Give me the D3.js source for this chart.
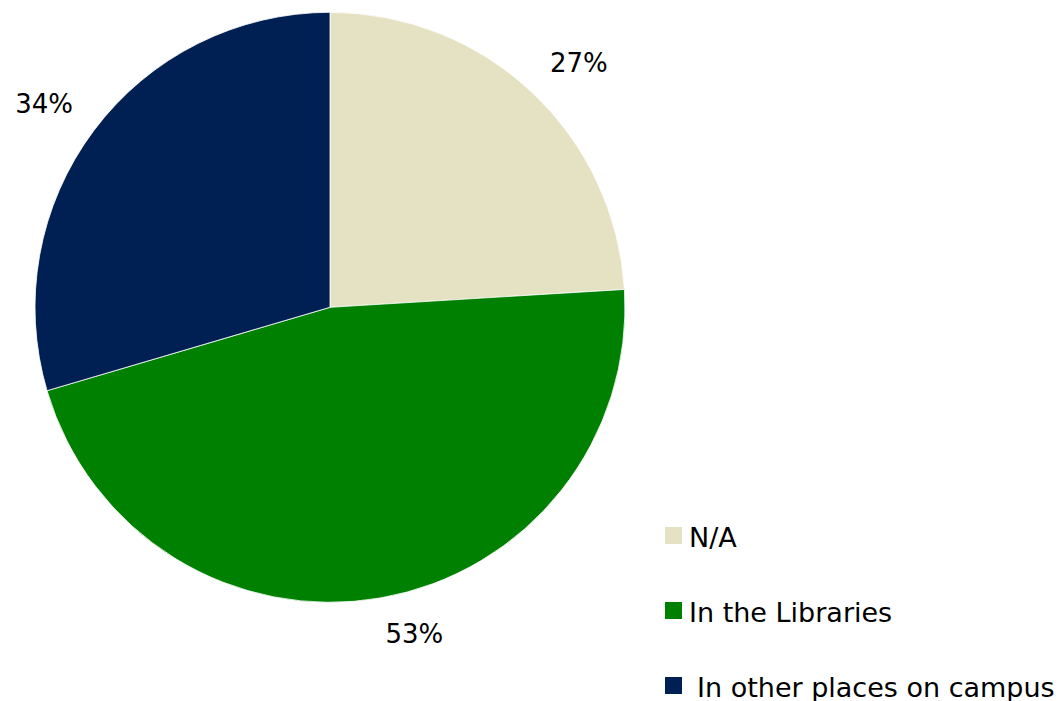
<!DOCTYPE html>
<html>
<head>
<meta charset="utf-8">
<script src="https://cdn.jsdelivr.net/npm/d3@7"></script>
<style>
  body { margin: 0; background: #fff; }
  svg { display: block; }
  text { font-family: "DejaVu Sans", sans-serif; fill: #000; }
</style>
</head>
<body>
<script>
// Chart data (labels as printed)
const categories = ["N/A", "In the Libraries", "In other places on campus"];
const values = [27.4, 52.9, 33.7];
const labels = ["27%", "53%", "34%"];
const colors = ["#e5e2c3", "#008000", "#001f52"];

const WIDTH = 1060, HEIGHT = 701;
const CX = 330, CY = 307.3, RADIUS = 295;
const LABEL_GAP = 321; // distance of the label box's nearest corner
const LABEL_FONT = 26;
const LEGEND_FONT = 27;

const svg = d3.select("body").append("svg")
  .attr("width", WIDTH)
  .attr("height", HEIGHT);

const data = categories.map((c, i) => ({ name: c, value: values[i], label: labels[i], color: colors[i] }));

const pie = d3.pie().sort(null).value((d) => d.value);
const arc = d3.arc().innerRadius(0).outerRadius(RADIUS);
const labelArc = d3.arc().innerRadius(LABEL_GAP).outerRadius(LABEL_GAP);

const g = svg.append("g").attr("transform", `translate(${CX},${CY})`);
const arcs = pie(data);

g.selectAll("path")
  .data(arcs)
  .join("path")
  .attr("d", arc)
  .attr("fill", (d) => d.data.color)
  .attr("stroke", "#fff")
  .attr("stroke-width", 0.8);

// Labels: the box corner nearest the pie sits on the mid-angle ray
const text = g.selectAll("text")
  .data(arcs)
  .join("text")
  .attr("font-size", `${LABEL_FONT}px`)
  .attr("dominant-baseline", "central")
  .attr("text-anchor", "middle")
  .text((d) => d.data.label);

text.each(function (d) {
  const box = this.getBBox();
  const mid = (d.startAngle + d.endAngle) / 2;
  const [px, py] = labelArc.centroid(d);
  const sx = Math.sin(mid) >= 0 ? 1 : -1;
  const sy = Math.cos(mid) >= 0 ? -1 : 1;
  d3.select(this)
    .attr("x", px + sx * box.width / 2)
    .attr("y", py + sy * LABEL_FONT * 0.42);
});

// Legend
const legendY = d3.scalePoint().domain(categories).range([536, 686]);
const legend = svg.append("g");
const item = legend.selectAll("g")
  .data(data)
  .join("g")
  .attr("transform", (d) => `translate(665,${legendY(d.name)})`);

item.append("rect")
  .attr("x", 0)
  .attr("y", -9)
  .attr("width", 17)
  .attr("height", 17)
  .attr("fill", (d) => d.color);

item.append("text")
  .attr("x", (d, i) => (i === 2 ? 32 : 24))
  .attr("y", 1)
  .attr("dominant-baseline", "central")
  .attr("font-size", `${LEGEND_FONT}px`)
  .text((d) => d.name);
</script>
</body>
</html>
